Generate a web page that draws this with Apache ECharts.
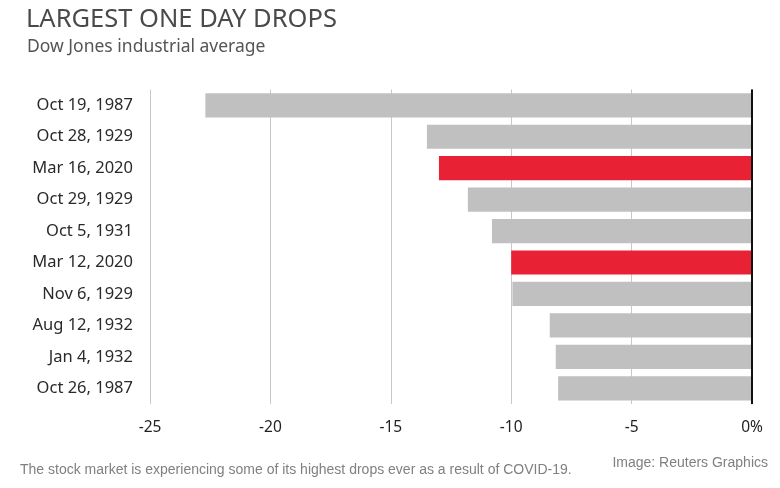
<!DOCTYPE html>
<html>
<head>
<meta charset="utf-8">
<script src="https://cdn.jsdelivr.net/npm/echarts@6/dist/echarts.min.js"></script>
<style>
html,body{margin:0;padding:0;background:#fff;}
#chart{width:780px;height:488px;}
</style>
</head>
<body>
<div id="chart"></div>
<script>
const categories = ["Oct 19, 1987","Oct 28, 1929","Mar 16, 2020","Oct 29, 1929","Oct 5, 1931","Mar 12, 2020","Nov 6, 1929","Aug 12, 1932","Jan 4, 1932","Oct 26, 1987"];
const drops = [-22.7, -13.5, -13.0, -11.8, -10.8, -10.0, -9.95, -8.4, -8.15, -8.05];
const highlighted = ["Mar 16, 2020","Mar 12, 2020"];
const xTicks = [-25, -20, -15, -10, -5, 0];

const chart = echarts.init(document.getElementById('chart'));
chart.setOption({
  backgroundColor: '#fff',
  animation: false,
  title: [
    {text: 'LARGEST ONE DAY DROPS', left: 21, top: 2,
     textStyle: {fontFamily: 'Noto Sans', fontSize: 25.5, fontWeight: 'normal', color: '#4a4a4a'}},
    {text: 'Dow Jones industrial average', left: 22, top: 33,
     textStyle: {fontFamily: 'Noto Sans', fontSize: 17.5, fontWeight: 'normal', color: '#555'}},
    {text: 'The stock market is experiencing some of its highest drops ever as a result of COVID-19.', left: 15, top: 458,
     textStyle: {fontFamily: 'Liberation Sans', fontSize: 14, fontWeight: 'normal', color: '#808080'}},
    {text: 'Image: Reuters Graphics', right: 7, top: 451,
     textStyle: {fontFamily: 'Liberation Sans', fontSize: 14, fontWeight: 'normal', color: '#808080'}}
  ],
  grid: {left: 150, right: 28, top: 89.6, bottom: 84, containLabel: false},
  xAxis: {
    type: 'value', min: xTicks[0], max: xTicks[xTicks.length - 1], interval: 5,
    axisLine: {show: false}, axisTick: {show: false},
    splitLine: {show: true, lineStyle: {color: '#c8c8c8', width: 1}},
    axisLabel: {margin: 16, fontFamily: 'Noto Sans', fontSize: 15.5, color: '#222',
      formatter: v => v === 0 ? '0%' : String(v)}
  },
  yAxis: {
    type: 'category', data: categories, inverse: true,
    axisLine: {show: true, lineStyle: {color: '#c8c8c8', width: 1.5}},
    axisTick: {show: false},
    axisLabel: {margin: 17, fontFamily: 'Noto Sans', fontSize: 16.5, color: '#2a2a2a'}
  },
  series: [{
    type: 'bar',
    data: drops.map((v, i) => ({
      value: v,
      itemStyle: {color: highlighted.includes(categories[i]) ? '#e92134' : '#c0c0c0'}
    })),
    barCategoryGap: '23%',
    markLine: {
      silent: true, symbol: 'none', label: {show: false},
      lineStyle: {color: '#111', width: 2, type: 'solid'},
      data: [{xAxis: 0}]
    }
  }]
});
</script>
</body>
</html>
